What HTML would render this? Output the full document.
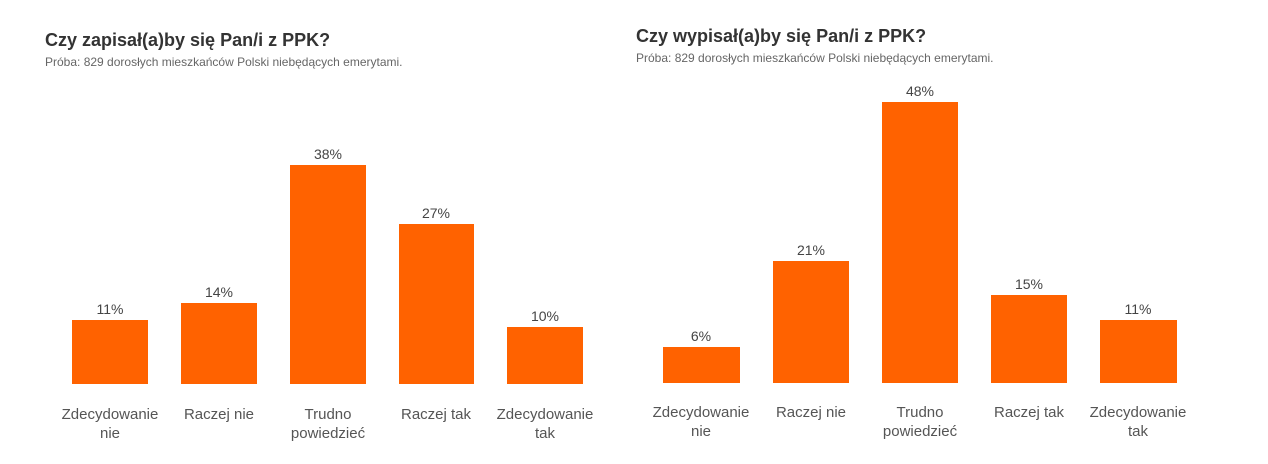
<!DOCTYPE html>
<html><head><meta charset="utf-8"><style>
body{margin:0;width:1268px;height:464px;background:#fff;font-family:"Liberation Sans",sans-serif;position:relative;overflow:hidden}
.t{position:absolute;font-weight:bold;font-size:18px;color:#333}
.s{position:absolute;font-size:12px;color:#666}
.b{position:absolute;background:#ff6200}
.v{position:absolute;font-size:14px;color:#444;text-align:center;width:80px}
.l{position:absolute;font-size:15px;color:#555;text-align:center;width:120px;line-height:19px}
</style></head><body>
<div class="t" style="left:45px;top:30px">Czy zapisał(a)by się Pan/i z PPK?</div>
<div class="s" style="left:45px;top:55px">Próba: 829 dorosłych mieszkańców Polski niebędących emerytami.</div>
<div class="t" style="left:636px;top:26px">Czy wypisał(a)by się Pan/i z PPK?</div>
<div class="s" style="left:636px;top:51px">Próba: 829 dorosłych mieszkańców Polski niebędących emerytami.</div>

<div class="b" style="left:72px;top:320px;width:76px;height:64px"></div><div class="v" style="left:70px;top:301px">11%</div>
<div class="b" style="left:181px;top:303px;width:76px;height:81px"></div><div class="v" style="left:179px;top:284px">14%</div>
<div class="b" style="left:290px;top:165px;width:76px;height:219px"></div><div class="v" style="left:288px;top:146px">38%</div>
<div class="b" style="left:399px;top:224px;width:75px;height:160px"></div><div class="v" style="left:396px;top:205px">27%</div>
<div class="b" style="left:507px;top:327px;width:76px;height:57px"></div><div class="v" style="left:505px;top:308px">10%</div>
<div class="l" style="left:50px;top:405px">Zdecydowanie<br>nie</div>
<div class="l" style="left:159px;top:405px">Raczej nie</div>
<div class="l" style="left:268px;top:405px">Trudno<br>powiedzieć</div>
<div class="l" style="left:376px;top:405px">Raczej tak</div>
<div class="l" style="left:485px;top:405px">Zdecydowanie<br>tak</div>

<div class="b" style="left:663px;top:347px;width:77px;height:36px"></div><div class="v" style="left:661px;top:328px">6%</div>
<div class="b" style="left:773px;top:261px;width:76px;height:122px"></div><div class="v" style="left:771px;top:242px">21%</div>
<div class="b" style="left:882px;top:102px;width:76px;height:281px"></div><div class="v" style="left:880px;top:83px">48%</div>
<div class="b" style="left:991px;top:295px;width:76px;height:88px"></div><div class="v" style="left:989px;top:276px">15%</div>
<div class="b" style="left:1100px;top:320px;width:77px;height:63px"></div><div class="v" style="left:1098px;top:301px">11%</div>
<div class="l" style="left:641px;top:403px">Zdecydowanie<br>nie</div>
<div class="l" style="left:751px;top:403px">Raczej nie</div>
<div class="l" style="left:860px;top:403px">Trudno<br>powiedzieć</div>
<div class="l" style="left:969px;top:403px">Raczej tak</div>
<div class="l" style="left:1078px;top:403px">Zdecydowanie<br>tak</div>
</body></html>
